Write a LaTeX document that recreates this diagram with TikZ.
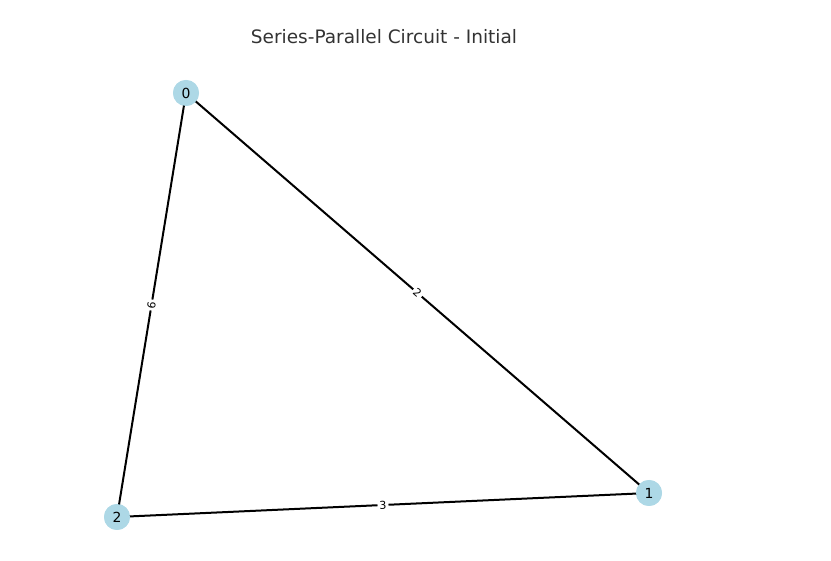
\documentclass[tikz,border=0pt]{standalone}
\usepackage{fontspec}
\setmainfont{DejaVu Sans}
\definecolor{nodeblue}{HTML}{ADD8E6}
\definecolor{titlegray}{HTML}{333333}
\begin{document}
\begin{tikzpicture}[x=1pt,y=-1pt,
  vertex/.style={circle,fill=nodeblue,minimum size=26pt,inner sep=0pt,font=\fontsize{13.9}{14}\selectfont},
  wire/.style={line width=2pt,black},
  wlabel/.style={fill=white,inner sep=2pt,font=\fontsize{11}{12}\selectfont}]
\useasboundingbox (0,0) rectangle (831,561);
\node[font=\fontsize{18.5}{20}\selectfont,text=titlegray] (title) at (384,37) {Series-Parallel Circuit - Initial};
\node[vertex] (n0) at (186,93) {0};
\node[vertex] (n1) at (649,493) {1};
\node[vertex] (n2) at (117,517) {2};
\draw[wire] (n0.center) -- node[wlabel,sloped] {2} (n1.center);
\draw[wire] (n2.center) -- node[wlabel,sloped] {6} (n0.center);
\draw[wire] (n2.center) -- node[wlabel,sloped] {3} (n1.center);
\node[vertex] at (n0) {0};
\node[vertex] at (n1) {1};
\node[vertex] at (n2) {2};
\end{tikzpicture}
\end{document}
